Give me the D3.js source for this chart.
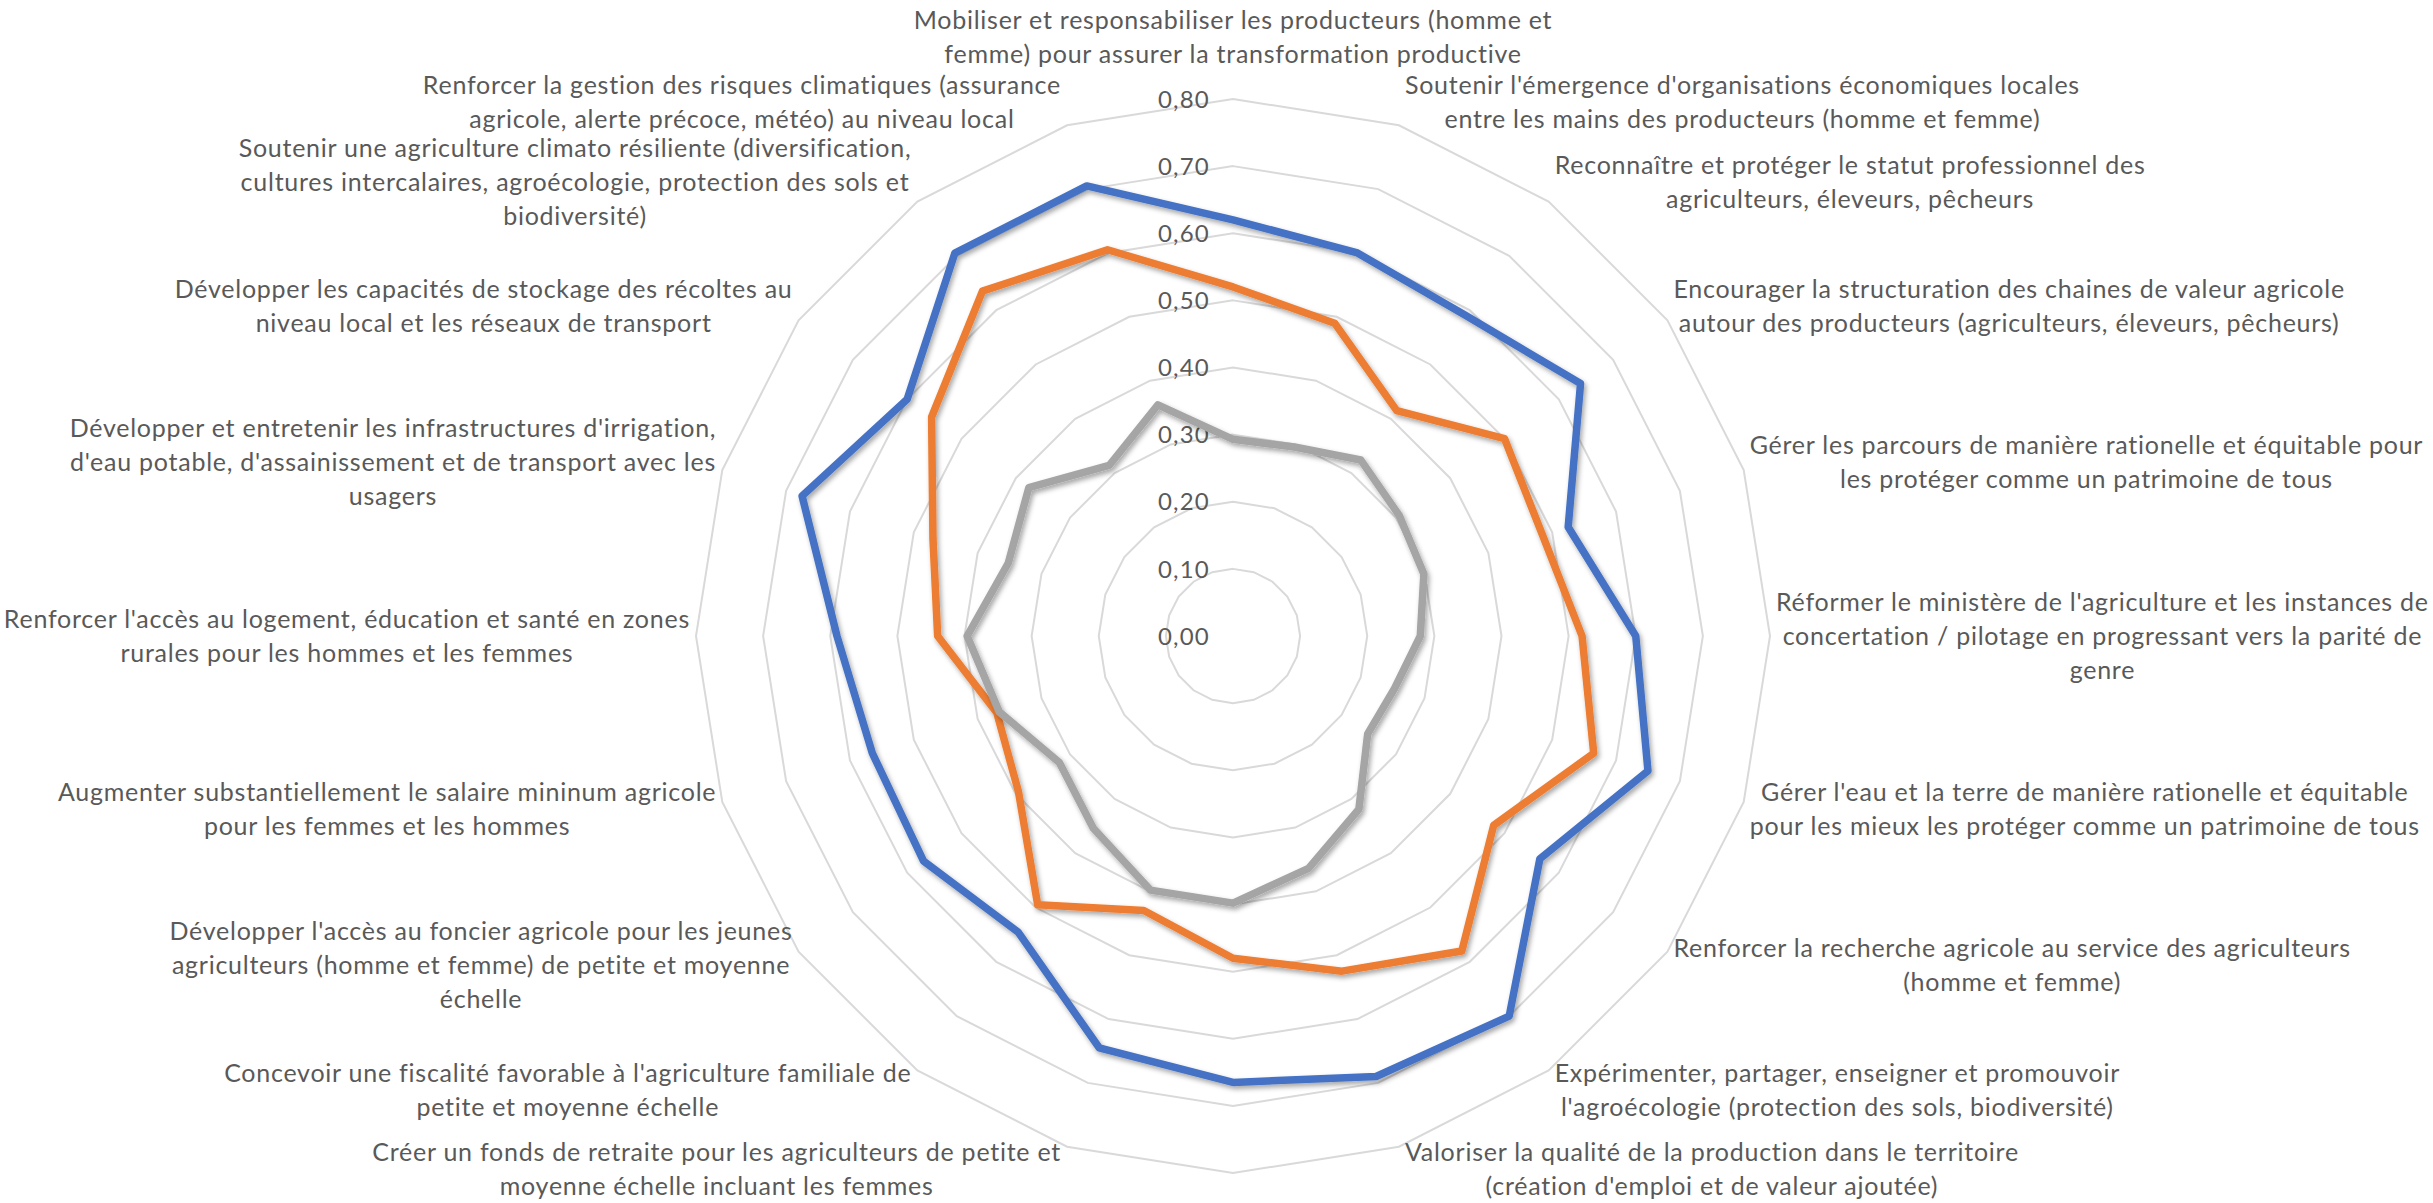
<!DOCTYPE html>
<html>
<head>
<meta charset="utf-8">
<script src="https://cdn.jsdelivr.net/npm/d3@7"></script>
<style>
  html, body { margin: 0; padding: 0; background: #ffffff; }
  svg { display: block; }
</style>
</head>
<body>
<svg id="chart" width="2433" height="1203"></svg>
<script>
// ---------------- DATA ----------------
const categories = [
  "Mobiliser et responsabiliser les producteurs (homme et\nfemme) pour assurer la transformation productive",
  "Soutenir l'émergence d'organisations économiques locales\nentre les mains des producteurs (homme et femme)",
  "Reconnaître et protéger le statut professionnel des\nagriculteurs, éleveurs, pêcheurs",
  "Encourager la structuration des chaines de valeur agricole\nautour des producteurs (agriculteurs, éleveurs, pêcheurs)",
  "Gérer les parcours de manière rationelle et équitable pour\nles protéger comme un patrimoine de tous",
  "Réformer le ministère de l'agriculture et les instances de\nconcertation / pilotage en progressant vers la parité de\ngenre",
  "Gérer l'eau et la terre de manière rationelle et équitable\npour les mieux les protéger comme un patrimoine de tous",
  "Renforcer la recherche agricole au service des agriculteurs\n(homme et femme)",
  "Expérimenter, partager, enseigner et promouvoir\nl'agroécologie (protection des sols, biodiversité)",
  "Valoriser la qualité de la production dans le territoire\n(création d'emploi et de valeur ajoutée)",
  "",
  "Créer un fonds de retraite pour les agriculteurs de petite et\nmoyenne échelle incluant les femmes",
  "Concevoir une fiscalité favorable à l'agriculture familiale de\npetite et moyenne échelle",
  "Développer l'accès au foncier agricole pour les jeunes\nagriculteurs (homme et femme) de petite et moyenne\néchelle",
  "Augmenter substantiellement le salaire mininum agricole\npour les femmes et les hommes",
  "Renforcer l'accès au logement, éducation et santé en zones\nrurales pour les hommes et les femmes",
  "Développer et entretenir les infrastructures d'irrigation,\nd'eau potable, d'assainissement et de transport avec les\nusagers",
  "Développer les capacités de stockage des récoltes au\nniveau local et les réseaux de transport",
  "Soutenir une agriculture climato résiliente (diversification,\ncultures intercalaires, agroécologie, protection des sols et\nbiodiversité)",
  "Renforcer la gestion des risques climatiques (assurance\nagricole, alerte précoce, météo) au niveau local"
];

const seriesBlue   = [0.62, 0.60, 0.59, 0.64, 0.525, 0.60, 0.65, 0.565, 0.70, 0.69, 0.665, 0.645, 0.545, 0.57, 0.565, 0.59, 0.675, 0.60, 0.705, 0.705];
const seriesOrange = [0.52, 0.49, 0.415, 0.50, 0.485, 0.52, 0.565, 0.48, 0.58, 0.525, 0.48, 0.43, 0.495, 0.395, 0.37, 0.44, 0.47, 0.555, 0.635, 0.605];
const seriesGray   = [0.293, 0.296, 0.324, 0.306, 0.299, 0.279, 0.253, 0.248, 0.319, 0.364, 0.398, 0.398, 0.354, 0.32, 0.366, 0.396, 0.352, 0.376, 0.314, 0.362];

const tickValues = [0, 0.1, 0.2, 0.3, 0.4, 0.5, 0.6, 0.7, 0.8];
const tickLabels = ["0,00", "0,10", "0,20", "0,30", "0,40", "0,50", "0,60", "0,70", "0,80"];

// ---------------- STYLE / LAYOUT ----------------
const seriesList = [
  { values: seriesBlue,   color: "#4472C4" },
  { values: seriesOrange, color: "#ED7D31" },
  { values: seriesGray,   color: "#A5A5A5" }
];
const cx = 1233, cy = 636, R = 537;
const N = categories.length;
const textColor = "#595959";
const fontFamily = "Lato, 'Open Sans', sans-serif";
const labelSize = 25, lineH = 34, labelSpacing = 0.75;

const svg = d3.select("#chart");
const defs = svg.append("defs");
const f = defs.append("filter").attr("id", "shadow")
  .attr("x", "-20%").attr("y", "-20%").attr("width", "140%").attr("height", "140%");
f.append("feDropShadow").attr("dx", 2).attr("dy", 3).attr("stdDeviation", 2.5)
  .attr("flood-color", "#000").attr("flood-opacity", 0.35);

const r = d3.scaleLinear().domain([0, 0.8]).range([0, R]);
const ang = i => i * 2 * Math.PI / N;

const g = svg.append("g").attr("transform", `translate(${cx},${cy})`);

// grid rings
const ringLine = d3.lineRadial()
  .angle((d, i) => ang(i))
  .radius(d => r(d))
  .curve(d3.curveLinearClosed);

g.append("g").selectAll("path")
  .data(tickValues.filter(v => v > 0))
  .join("path")
  .attr("d", v => ringLine(d3.range(N).map(() => v)))
  .attr("fill", "none")
  .attr("stroke", "#d9d9d9")
  .attr("stroke-width", 2);

// tick labels
g.append("g").selectAll("text")
  .data(tickValues)
  .join("text")
  .attr("x", -23)
  .attr("y", v => -r(v))
  .attr("dy", "0.36em")
  .attr("text-anchor", "end")
  .attr("font-family", fontFamily)
  .attr("font-size", 24)
  .attr("letter-spacing", 1.2)
  .attr("fill", textColor)
  .text((v, i) => tickLabels[i]);

// series lines
const seriesLine = d3.lineRadial()
  .angle((d, i) => ang(i))
  .radius(d => r(d))
  .curve(d3.curveLinearClosed);

g.append("g").selectAll("path")
  .data(seriesList)
  .join("path")
  .attr("d", s => seriesLine(s.values))
  .attr("fill", "none")
  .attr("stroke", s => s.color)
  .attr("stroke-width", 7.5)
  .attr("stroke-linejoin", "round")
  .attr("filter", "url(#shadow)");

// category labels
const lg = svg.append("g");
categories.forEach((label, i) => {
  if (!label) return;
  const a = ang(i);
  const s = Math.sin(a), c = Math.cos(a);
  const vx = cx + R * s, vy = cy - R * c;
  const lines = label.split("\n");
  const t = lg.append("text")
    .attr("font-family", fontFamily)
    .attr("font-size", labelSize)
    .attr("letter-spacing", labelSpacing)
    .attr("fill", textColor)
    .attr("text-anchor", "middle");
  const spans = lines.map(l => t.append("tspan").text(l));
  const widths = spans.map(sp => sp.node().getComputedTextLength());
  const w = d3.max(widths);
  const h = lines.length * lineH;
  let midX, midY;
  if (Math.abs(s) < 0.01) {
    midX = vx;
    midY = c > 0 ? vy - 28 - h / 2 : vy + 28 + h / 2;
  } else {
    midX = s > 0 ? vx + 6 + w / 2 : vx - 6 - w / 2;
    midY = vy - 24 * c;
  }
  spans.forEach((sp, k) => {
    sp.attr("x", midX)
      .attr("y", midY + (k - (lines.length - 1) / 2) * lineH)
      .attr("dy", "0.35em");
  });
});
</script>
</body>
</html>
